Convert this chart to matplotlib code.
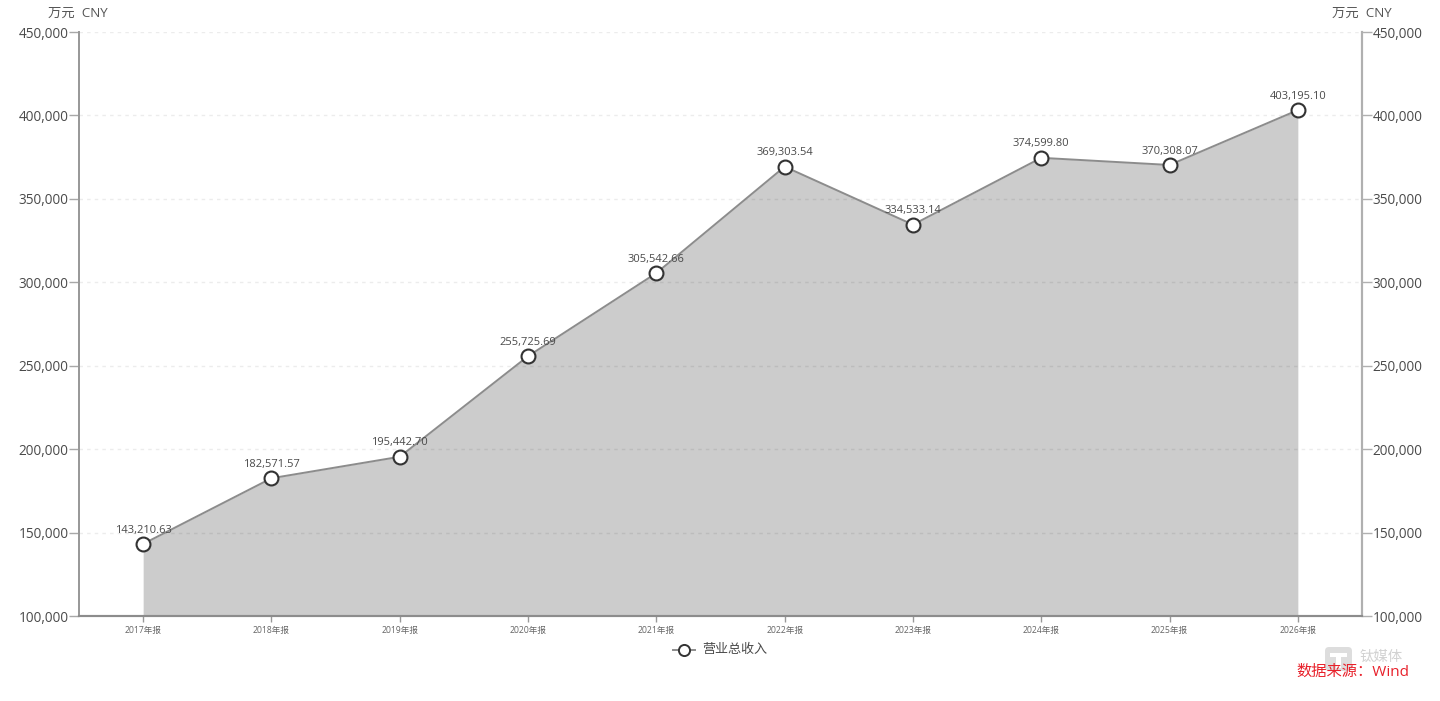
import matplotlib
matplotlib.use("Agg")
import matplotlib.pyplot as plt
from matplotlib.patches import FancyBboxPatch, Rectangle

plt.rcParams['font.family'] = ['Open Sans', 'Noto Sans CJK SC', 'DejaVu Sans']

years = ['2017年报', '2018年报', '2019年报', '2020年报', '2021年报',
         '2022年报', '2023年报', '2024年报', '2025年报', '2026年报']
revenue = [143210.63, 182571.57, 195442.70, 255725.69, 305542.66,
           369303.54, 334533.14, 374599.80, 370308.07, 403195.10]
y_ticks = [100000, 150000, 200000, 250000, 300000, 350000, 400000, 450000]
series_name = '营业总收入'
unit = '万元  CNY'
source = '数据来源：Wind'
watermark = '钛媒体'

W, H = 1440, 701
fig = plt.figure(figsize=(W / 100, H / 100), dpi=100)
ax = fig.add_axes([79 / W, 1 - 616 / H, (1362 - 79) / W, (616 - 32) / H])

x = list(range(len(years)))
ax.set_xlim(-0.5, len(years) - 0.5)
ax.set_ylim(100000, 450000)

ax.grid(axis='y', color='#ececec', linestyle=(0, (2.5, 3)), linewidth=1.0)
ax.set_axisbelow(True)
ax.fill_between(x, revenue, 100000, color='black', alpha=0.2, linewidth=0, zorder=2)
ax.plot(x, revenue, color='#8c8c8c', linewidth=1.4, zorder=3)
ax.plot(x, revenue, linestyle='none', marker='o', markersize=10, markerfacecolor='white',
        markeredgecolor='#333333', markeredgewidth=1.5, zorder=4)

for i, v in zip(x, revenue):
    ax.annotate(f'{v:,.2f}', (i, v), xytext=(0, 10), textcoords='offset points',
                ha='center', va='center', fontsize=8, color='#4a4a4a', zorder=5)

ax.set_xticks(x)
ax.set_xticklabels(years, fontsize=6.2, color='#666666')
ax.tick_params(axis='x', length=4, width=1, color='#999999', pad=3)
ax.set_yticks(y_ticks)
ax.set_yticklabels([f'{t:,}' for t in y_ticks], fontsize=9.8, color='#4a4a4a')
ax.tick_params(axis='y', length=7.5, width=1, color='#a8a8a8', pad=0)

ax2 = ax.twinx()
ax2.set_ylim(100000, 450000)
ax2.set_yticks(y_ticks)
ax2.set_yticklabels([f'{t:,}' for t in y_ticks], fontsize=9.8, color='#4a4a4a')
ax2.tick_params(axis='y', length=7.5, width=1, color='#b0b0b0', pad=0)

for a in (ax, ax2):
    a.spines['top'].set_visible(False)
    a.spines['left'].set_color('#999999')
    a.spines['bottom'].set_color('#8c8c8c')
    a.spines['right'].set_color('#b0b0b0')
    a.spines['left'].set_linewidth(1.3)
    a.spines['bottom'].set_linewidth(1.5)
    a.spines['right'].set_linewidth(1.5)

fig.text(78 / W, 1 - 13 / H, unit, ha='center', va='center', fontsize=9.6, color='#555555')
fig.text(1362 / W, 1 - 13 / H, unit, ha='center', va='center', fontsize=9.6, color='#555555')

# legend, drawn by hand so it sits just under the axis
leg = fig.add_axes([0, 0, 1, 1], facecolor='none')
leg.set_xlim(0, W)
leg.set_ylim(H, 0)
leg.axis('off')
leg.plot([673, 695], [650, 650], color='#8c8c8c', linewidth=1.4)
leg.plot([684], [650], marker='o', markersize=8, markerfacecolor='white',
         markeredgecolor='#333333', markeredgewidth=1.4)
leg.text(702, 649, series_name, ha='left', va='center', fontsize=9.4, color='#4a4a4a')

# watermark under the red source text
leg.add_patch(FancyBboxPatch((1325, 647), 27, 24, boxstyle='round,pad=0,rounding_size=4',
                             facecolor='#dddddd', edgecolor='none'))
leg.add_patch(Rectangle((1330, 653), 17, 4, facecolor='white', edgecolor='none'))
leg.add_patch(Rectangle((1336, 653), 5, 15, facecolor='white', edgecolor='none'))
leg.text(1381, 657, watermark, ha='center', va='center', fontsize=10.4, color='#d2d2d2')
leg.text(1353, 672, source, ha='center', va='center', fontsize=11, color='#e8202a')

fig.savefig('out.png', dpi=100)
